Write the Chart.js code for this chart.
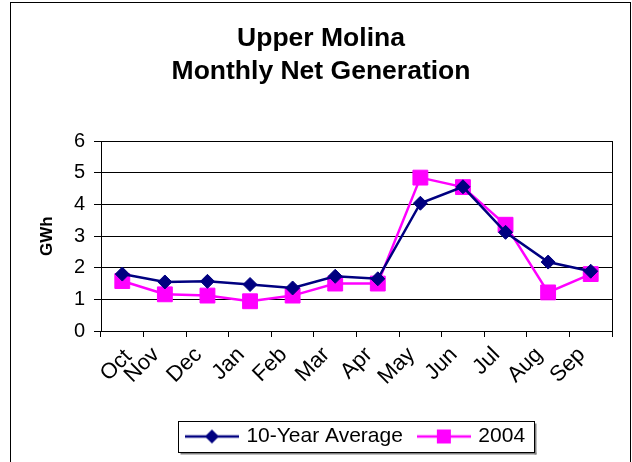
<!DOCTYPE html>
<html>
<head>
<meta charset="utf-8">
<script src="https://cdn.jsdelivr.net/npm/chart.js@4/dist/chart.umd.min.js"></script>
<style>
html,body{margin:0;padding:0;background:#fff;}
#wrap{width:632px;height:462px;position:relative;}
</style>
</head>
<body>
<div id="wrap"><canvas id="c" width="632" height="462"></canvas></div>
<script>
const months = ['Oct','Nov','Dec','Jan','Feb','Mar','Apr','May','Jun','Jul','Aug','Sep'];
const tenYearAverage = [1.80, 1.55, 1.57, 1.47, 1.36, 1.73, 1.65, 4.04, 4.56, 3.12, 2.18, 1.89];
const year2004 = [1.58, 1.16, 1.12, 0.94, 1.12, 1.50, 1.50, 4.85, 4.55, 3.36, 1.22, 1.80];
const yTicks = [0, 1, 2, 3, 4, 5, 6];
const titleLines = ['Upper Molina', 'Monthly Net Generation'];
const seriesNames = ['10-Year Average', '2004'];

const NAVY = '#000080';
const MAGENTA = '#FF00FF';
const FONT = 'Liberation Sans, Arial, sans-serif';

function legendIcon(color, shape) {
  const cv = document.createElement('canvas');
  cv.width = 54; cv.height = 18;
  const g = cv.getContext('2d');
  g.strokeStyle = color; g.lineWidth = 2.5;
  g.beginPath(); g.moveTo(0, 9); g.lineTo(54, 9); g.stroke();
  g.fillStyle = color;
  g.beginPath();
  if (shape === 'diamond') {
    g.moveTo(27, 2); g.lineTo(34, 9); g.lineTo(27, 16); g.lineTo(20, 9);
  } else {
    g.rect(20, 2, 14, 14);
  }
  g.closePath(); g.fill();
  return cv;
}

const frame = {
  id: 'frame',
  beforeDraw(chart) {
    const ctx = chart.ctx;
    ctx.save();
    ctx.fillStyle = '#fff';
    ctx.fillRect(0, 0, chart.width, chart.height);
    ctx.strokeStyle = '#000';
    ctx.lineWidth = 1;
    ctx.strokeRect(10.5, 2.5, 620, 480);
    ctx.restore();
    // keep the first category label clear of the value axis, as in the original
    const xs = chart.scales.x;
    const items = xs.getLabelItems(chart.chartArea);
    if (items && items.length && items[0].options && items[0].options.translation) {
      const tr = items[0].options.translation;
      items[0].options = Object.assign({}, items[0].options, { translation: [tr[0] + 15, tr[1] + 2] });
    }
  },
  afterDraw(chart) {
    const ctx = chart.ctx;
    const a = chart.chartArea;
    ctx.save();
    ctx.strokeStyle = '#000';
    ctx.lineWidth = 1;
    ctx.strokeRect(Math.round(a.left) + 0.5, Math.round(a.top) + 0.5, Math.round(a.right - a.left), Math.round(a.bottom - a.top));
    // legend box
    const hb = chart.legend.legendHitBoxes;
    if (hb && hb.length) {
      let l = Infinity, r = -Infinity, t = Infinity, b = -Infinity;
      hb.forEach(h => { l = Math.min(l, h.left); r = Math.max(r, h.left + h.width); t = Math.min(t, h.top); b = Math.max(b, h.top + h.height); });
      const x0 = Math.round(l - 10) + 0.5, x1 = Math.round(r + 9) + 0.5;
      const y0 = Math.round(t - 5) + 0.5, y1 = Math.round(b + 5) + 0.5;
      ctx.fillStyle = '#808080';
      ctx.fillRect(x0 + 2, y1, x1 - x0, 2);
      ctx.fillRect(x1, y0 + 2, 2, y1 - y0);
      ctx.strokeStyle = '#000';
      ctx.strokeRect(x0, y0, x1 - x0, y1 - y0);
    }
    ctx.restore();
  }
};

new Chart(document.getElementById('c'), {
  type: 'line',
  data: {
    labels: months,
    datasets: [
      {
        label: seriesNames[0], data: tenYearAverage,
        borderColor: NAVY, backgroundColor: NAVY, borderWidth: 2.5,
        pointStyle: 'rectRot', pointRadius: 7, pointHoverRadius: 7,
        pointBorderWidth: 1, pointBorderColor: NAVY, pointBackgroundColor: NAVY,
        tension: 0
      },
      {
        label: seriesNames[1], data: year2004,
        borderColor: MAGENTA, backgroundColor: MAGENTA, borderWidth: 2.5,
        pointStyle: 'rect', pointRadius: 10.5, pointHoverRadius: 10.5,
        pointBorderWidth: 1, pointBorderColor: MAGENTA, pointBackgroundColor: MAGENTA,
        tension: 0
      }
    ]
  },
  options: {
    responsive: false,
    animation: false,
    devicePixelRatio: 1,
    layout: { padding: { left: 12, right: 2, top: 0, bottom: 5 } },
    plugins: {
      tooltip: { enabled: false },
      title: {
        display: true, text: titleLines, color: '#000',
        font: { family: FONT, size: 26.5, weight: 'bold', lineHeight: 1.25 },
        padding: { top: 22, bottom: 53 }
      },
      legend: {
        position: 'bottom', fullSize: false,
        labels: {
          color: '#000', font: { family: FONT, size: 21 },
          usePointStyle: true, pointStyleWidth: 48, boxHeight: 18, padding: 17,
          generateLabels(chart) {
            return chart.data.datasets.map((ds, i) => ({
              text: ds.label, fillStyle: ds.borderColor, strokeStyle: ds.borderColor,
              lineWidth: 0, hidden: false, datasetIndex: i, fontColor: '#000',
              pointStyle: legendIcon(ds.borderColor, i === 0 ? 'diamond' : 'square')
            }));
          }
        }
      }
    },
    scales: {
      x: {
        offset: true,
        grid: { offset: true, drawOnChartArea: false, drawTicks: true, tickLength: 6, color: '#000', lineWidth: 1 },
        border: { display: true, color: '#000', width: 1 },
        ticks: { color: '#000', font: { family: FONT, size: 22 }, minRotation: 45, maxRotation: 45, padding: 5, labelOffset: -9, autoSkip: false },
        afterFit(s) { s.height = 78; s.paddingRight = 20; }
      },
      y: {
        min: 0, max: 6,
        afterBuildTicks(s) { s.ticks = yTicks.map(v => ({ value: v })); },
        grid: { color: '#000', lineWidth: 1, drawTicks: true, tickLength: 7 },
        border: { display: true, color: '#000', width: 1 },
        ticks: { color: '#000', font: { family: FONT, size: 20 }, padding: 9 },
        title: { display: true, text: 'GWh', color: '#000', font: { family: FONT, size: 17, weight: 'bold' }, padding: { top: 25, bottom: 0 } },
        afterFit(s) { s.width = 89; }
      }
    }
  },
  plugins: [frame]
});
</script>
</body>
</html>
